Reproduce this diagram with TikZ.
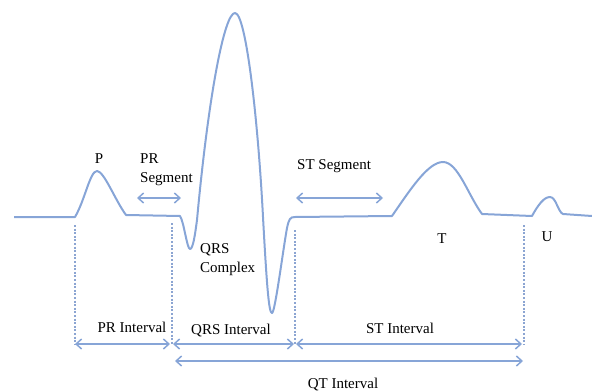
\documentclass[tikz,border=0pt]{standalone}
\usepackage{fontspec}
\setmainfont{Liberation Serif}
\usetikzlibrary{arrows.meta}
\definecolor{wave}{RGB}{135,165,215}
\definecolor{guide}{RGB}{140,165,210}

\begin{document}
\begin{tikzpicture}[x=1pt,y=-1pt,
  lbl/.style={font=\fontsize{15}{19}\selectfont,inner sep=0pt},
  span/.style={wave,line width=1.5pt,{Straight Barb[length=5.5pt,width=10pt]}-{Straight Barb[length=5.5pt,width=10pt]}},
  guideline/.style={guide,line width=1.5pt,dash pattern=on 2pt off 1.6pt}]
  \useasboundingbox (0,0) rectangle (592,391);
  % trace: baseline, P, QRS, ST, T, U
  \draw[wave,line width=2pt,line join=round]
    (14,217) -- (75,217) .. controls (85,200) and (90,171) .. (97,171) .. controls (104,171) and (115,200) .. (126,215) -- (180,216)
    .. controls (184,222) and (187,249) .. (190,249) .. controls (193,249) and (195,235) .. (197,220)
    .. controls (208,100) and (224,13) .. (235,13) .. controls (246,13) and (258,120) .. (263,217)
    .. controls (267,290) and (269,313) .. (272,313) .. controls (275,313) and (283,250) .. (287,228)
    .. controls (289,219) and (290,217) .. (295,217) -- (392,216)
    .. controls (410,190) and (428,162) .. (443,162) .. controls (458,162) and (468,195) .. (482,214) -- (532,216)
    .. controls (538,205) and (544,197) .. (550,197) .. controls (556,197) and (558,212) .. (563,214) -- (592,216);
  % interval borders
  \foreach \n/\x/\t in {pr/75/225,qrs/172/223,st/295/230,qt/524/225} {\coordinate (\n top) at (\x,\t); \coordinate (\n) at (\x,344); \draw[guideline] (\n top) -- (\n);}
  \coordinate (qrs2) at (175,361); \coordinate (qt2) at (523,361);
  \coordinate (prs1) at (137,198); \coordinate (prs2) at (181,198);
  \coordinate (sts1) at (296,198); \coordinate (sts2) at (383,198);
  \draw[span] (pr) -- ([xshift=-2pt]qrs);
  \draw[span] ([xshift=1pt]qrs) -- ([xshift=-1pt]st);
  \draw[span] ([xshift=1pt]st) -- ([xshift=-2pt]qt);
  \draw[span] (qrs2) -- (qt2);
  \draw[span] (prs1) -- (prs2);
  \draw[span] (sts1) -- (sts2);
  % labels
  \node[lbl,anchor=base] (pl) at (99,163) {P};
  \node[lbl,anchor=north west,align=left] (prseg) at (140,153) {PR\\Segment};
  \node[lbl,anchor=north west,align=left] (qrsc) at (200,243) {QRS\\Complex};
  \node[lbl,anchor=base west] (stseg) at (297,169) {ST Segment};
  \node[lbl,anchor=base] (tl) at (442,243) {T};
  \node[lbl,anchor=base] (ul) at (547,241) {U};
  \node[lbl,anchor=base] (pri) at (132,332) {PR Interval};
  \node[lbl,anchor=base] (qrsi) at (231,334) {QRS Interval};
  \node[lbl,anchor=base] (sti) at (400,333) {ST Interval};
  \node[lbl,anchor=base] (qti) at (343,388) {QT Interval};
\end{tikzpicture}
\end{document}
